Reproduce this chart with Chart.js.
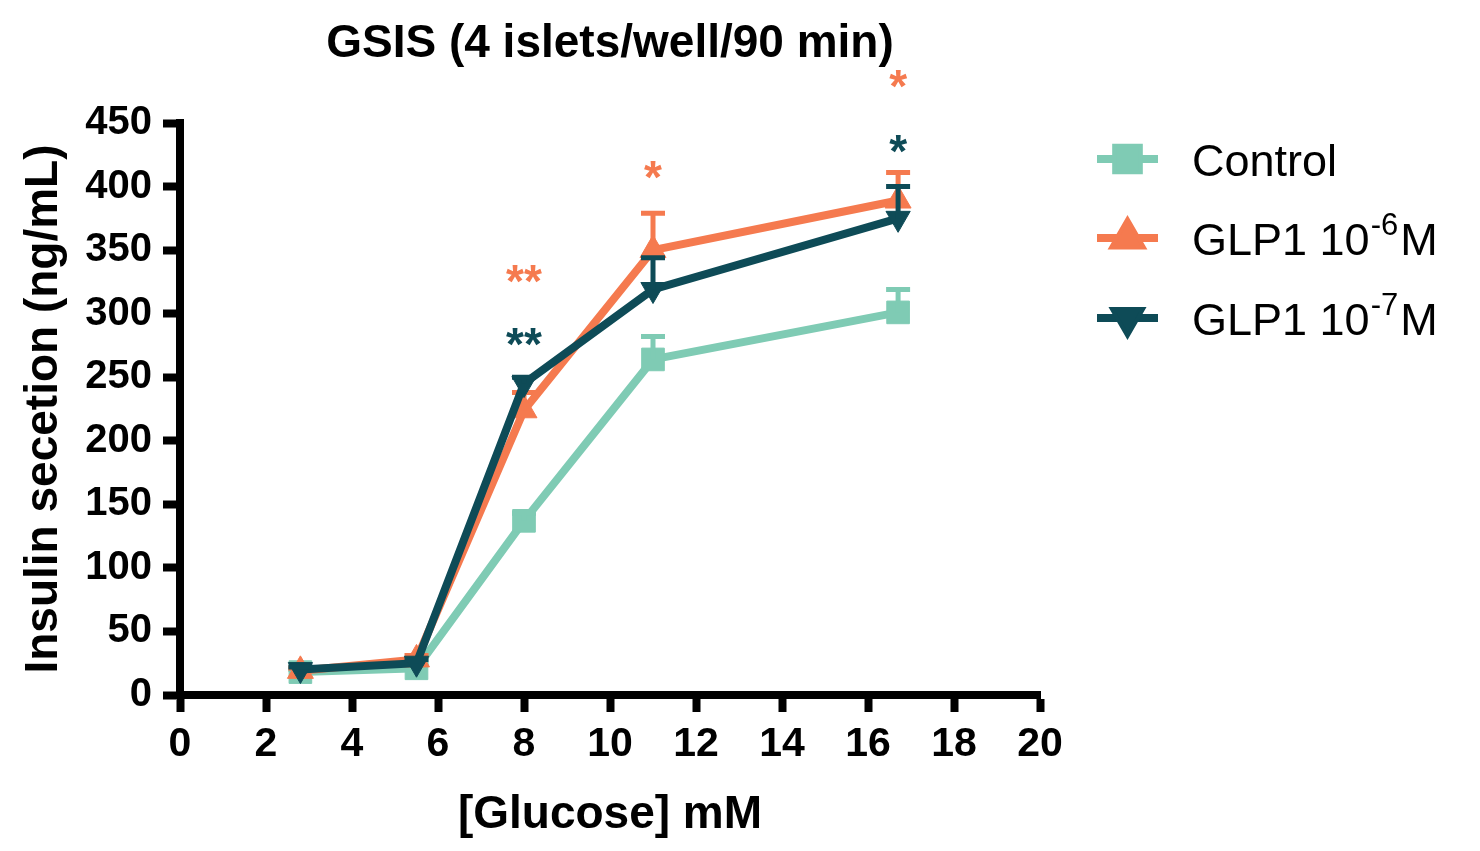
<!DOCTYPE html>
<html><head><meta charset="utf-8">
<script src="https://cdn.jsdelivr.net/npm/chart.js@4.4.1/dist/chart.umd.min.js"></script>
<style>html,body{margin:0;padding:0;background:#fff}#wrap{width:1480px;height:851px}</style>
</head><body><div id="wrap"><canvas id="c" width="1480" height="851"></canvas></div>
<script>
// ---- data ----
const glucose = [2.8, 5.5, 8, 11, 16.7];
const seriesNames = ['Control', 'GLP1 10^-6M', 'GLP1 10^-7M'];
const controlMean = [18, 21, 137, 264, 301];
const controlErr  = [2, 3, 6, 18, 18];
const glp6Mean    = [19, 28, 224, 350, 389];
const glp6Err     = [2, 3, 14, 29, 22];
const glp7Mean    = [20, 25, 245, 319, 375];
const glp7Err     = [2, 3, 5, 25, 25];
const xTicks = [0, 2, 4, 6, 8, 10, 12, 14, 16, 18, 20];
const yTicks = [0, 50, 100, 150, 200, 250, 300, 350, 400, 450];
const starSeries = [1, 2, 1, 1, 2];
const starX      = [8, 8, 11, 16.7, 16.7];
const starY      = [329, 279, 411, 482, 431];
const starText   = ['**', '**', '*', '*', '*'];
const titleText  = 'GSIS (4 islets/well/90 min)';
const xTitle = '[Glucose] mM';
const yTitle = 'Insulin secetion (ng/mL)';

// ---- styles ----
const FONT = "'Liberation Sans', Arial, Helvetica, sans-serif";
const COLORS = ['#7FCBB4', '#F57A4F', '#0E4B57'];
const STYLES = ['rect', 'triangle', 'triangle'];
const ROT = [0, 0, 180];
const RADII = [16, 15, 14];
const means = [controlMean, glp6Mean, glp7Mean];
const errs = [controlErr, glp6Err, glp7Err];

Chart.defaults.font.family = FONT;
Chart.defaults.color = '#000';

const datasets = seriesNames.map((name, i) => ({
  label: name,
  data: glucose.map((x, j) => ({ x: x, y: means[i][j] })),
  borderColor: COLORS[i],
  backgroundColor: COLORS[i],
  borderWidth: 8,
  pointStyle: STYLES[i],
  pointRotation: ROT[i],
  pointRadius: RADII[i],
  pointBorderWidth: 1,
  pointBackgroundColor: COLORS[i],
  pointBorderColor: COLORS[i],
  order: 2 - i,
  tension: 0,
  clip: false
}));

const errorBars = {
  id: 'errorBars',
  afterDatasetDraw(chart, args) {
    const i = args.index, meta = args.meta, ys = chart.scales.y, ctx = chart.ctx;
    ctx.save();
    ctx.strokeStyle = COLORS[i];
    ctx.lineWidth = 5;
    meta.data.forEach((pt, j) => {
      const top = ys.getPixelForValue(means[i][j] + errs[i][j]);
      ctx.beginPath();
      ctx.moveTo(pt.x, pt.y);
      ctx.lineTo(pt.x, top);
      ctx.moveTo(pt.x - 12, top);
      ctx.lineTo(pt.x + 12, top);
      ctx.stroke();
    });
    ctx.restore();
  }
};

function drawLabel(ctx, text, x, baseY, size) {
  const m = text.match(/^(.*?)\^(-?\d+)(.*)$/);
  ctx.textAlign = 'left';
  ctx.textBaseline = 'alphabetic';
  ctx.font = size + 'px ' + FONT;
  if (!m) { ctx.fillText(text, x, baseY); return; }
  ctx.fillText(m[1], x, baseY);
  let cx = x + ctx.measureText(m[1]).width + 1;
  const supSize = Math.round(size * 0.7);
  ctx.font = supSize + 'px ' + FONT;
  ctx.fillText(m[2], cx, baseY - size * 0.45);
  cx += ctx.measureText(m[2]).width + 2;
  ctx.font = size + 'px ' + FONT;
  ctx.fillText(m[3], cx, baseY);
}

const decorations = {
  id: 'decorations',
  afterDraw(chart) {
    const ctx = chart.ctx, ca = chart.chartArea, xs = chart.scales.x, ys = chart.scales.y;
    ctx.save();
    // title
    ctx.fillStyle = '#000';
    ctx.font = 'bold 46px ' + FONT;
    ctx.textAlign = 'center';
    ctx.textBaseline = 'alphabetic';
    ctx.fillText(titleText, (ca.left + ca.right) / 2, 57);
    // significance stars
    ctx.font = 'bold 46px ' + FONT;
    starX.forEach((sx, k) => {
      ctx.fillStyle = COLORS[starSeries[k]];
      ctx.fillText(starText[k], xs.getPixelForValue(sx), ys.getPixelForValue(starY[k]) + 20);
    });
    // legend
    const lx0 = 1097, lx1 = 1158, rows = [159, 238, 318];
    seriesNames.forEach((name, i) => {
      const y = rows[i];
      ctx.strokeStyle = COLORS[i];
      ctx.fillStyle = COLORS[i];
      ctx.lineWidth = 8;
      ctx.beginPath(); ctx.moveTo(lx0, y); ctx.lineTo(lx1, y); ctx.stroke();
      Chart.helpers.drawPoint(ctx, { pointStyle: STYLES[i], rotation: ROT[i], radius: RADII[i], borderWidth: 1 }, (lx0 + lx1) / 2, y);
      ctx.fill();
      ctx.fillStyle = '#000';
      drawLabel(ctx, name, 1192, y + 17, 45);
    });
    ctx.restore();
  }
};

new Chart(document.getElementById('c'), {
  type: 'line',
  data: { datasets: datasets },
  plugins: [errorBars, decorations],
  options: {
    responsive: false,
    animation: false,
    devicePixelRatio: 1,
    layout: { padding: { left: 0, top: 123, right: 440, bottom: 0 } },
    plugins: { legend: { display: false }, tooltip: { enabled: false }, title: { display: false } },
    scales: {
      x: {
        type: 'linear', min: 0, max: 20,
        afterBuildTicks(s) { s.ticks = xTicks.map(v => ({ value: v })); },
        afterFit(s) { s.height = 156; },
        ticks: { font: { size: 41, weight: 'bold' }, color: '#000', padding: 8, maxRotation: 0 },
        grid: { drawOnChartArea: false, drawTicks: true, tickLength: 17, tickWidth: 8, tickColor: '#000', color: '#000' },
        border: { display: true, width: 8, color: '#000' },
        title: { display: true, text: xTitle, font: { size: 46, weight: 'bold' }, color: '#000', padding: { top: 0, bottom: 8 } }
      },
      y: {
        type: 'linear', min: 0, max: 450,
        afterBuildTicks(s) { s.ticks = yTicks.map(v => ({ value: v })); },
        afterFit(s) { s.width = 180; },
        ticks: { font: { size: 40, weight: 'bold' }, color: '#000', padding: 11 },
        grid: { drawOnChartArea: false, drawTicks: true, tickLength: 17, tickWidth: 8, tickColor: '#000', color: '#000' },
        border: { display: true, width: 8, color: '#000' },
        title: { display: true, text: yTitle, font: { size: 46, weight: 'bold' }, color: '#000', padding: { top: 17, bottom: 0 } }
      }
    }
  }
});
</script></body></html>
